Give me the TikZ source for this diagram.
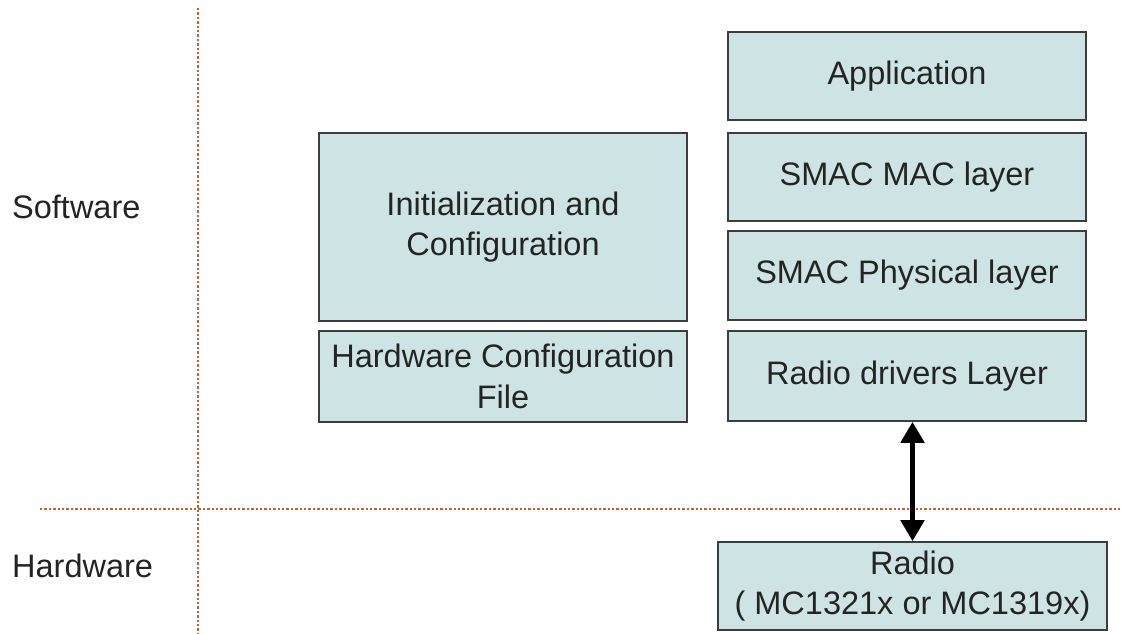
\documentclass[tikz,border=0pt]{standalone}
\usepackage{fontspec}
\setmainfont{Liberation Sans}
\usetikzlibrary{arrows.meta}
\definecolor{boxfill}{RGB}{206,228,228}
\definecolor{boxline}{RGB}{60,62,62}
\definecolor{divider}{RGB}{184,100,62}
\definecolor{txt}{RGB}{36,36,36}
\tikzset{
  layer/.style={draw=boxline, line width=1.6pt, fill=boxfill, inner sep=0pt,
    text=txt, align=center, font=\fontsize{32.5}{40.5}\selectfont},
  side/.style={anchor=west, inner sep=0pt, text=txt, font=\fontsize{32.5}{40.5}\selectfont},
  divline/.style={draw=divider, line width=2.8pt, dash pattern=on 2.4pt off 2pt},
  link/.style={line width=5pt, {Triangle[length=21pt,width=23pt]}-{Triangle[length=21pt,width=23pt]}}
}
\begin{document}
\begin{tikzpicture}[x=1pt, y=-1pt]
\useasboundingbox (0,0) rectangle (1121,634);
% software / hardware dividers
\coordinate (vtop) at (198,8);
\coordinate (vbot) at (198,634);
\coordinate (hl) at (40,509);
\coordinate (hr) at (1121,509);
\draw[divline] (vtop) -- (vbot);
\draw[divline] (hl) -- (hr);
% domain labels
\node[side] (sw) at (12,207) {Software};
\node[side] (hw) at (12,566) {Hardware};
% left column
\node[layer, minimum width=368pt, minimum height=188pt] (init) at (503,227) {Initialization and\\Configuration};
\node[layer, minimum width=368pt, minimum height=91pt] (hwcfg) at (503,376.5) {Hardware Configuration\\File};
% protocol stack
\node[layer, minimum width=358pt, minimum height=88pt] (app) at (907,76) {Application};
\node[layer, minimum width=358pt, minimum height=88pt] (mac) at (907,177) {SMAC MAC layer};
\node[layer, minimum width=358pt, minimum height=89pt] (phy) at (907,275.5) {SMAC Physical layer};
\node[layer, minimum width=358pt, minimum height=90pt] (drv) at (907,376) {Radio drivers Layer};
% radio hardware
\node[layer, minimum width=389pt, minimum height=88pt] (radio) at (912.5,586) {Radio\\( MC1321x or MC1319x)};
% driver <-> radio link
\draw[link] (drv.south -| radio.north) -- (radio.north);
\end{tikzpicture}
\end{document}
